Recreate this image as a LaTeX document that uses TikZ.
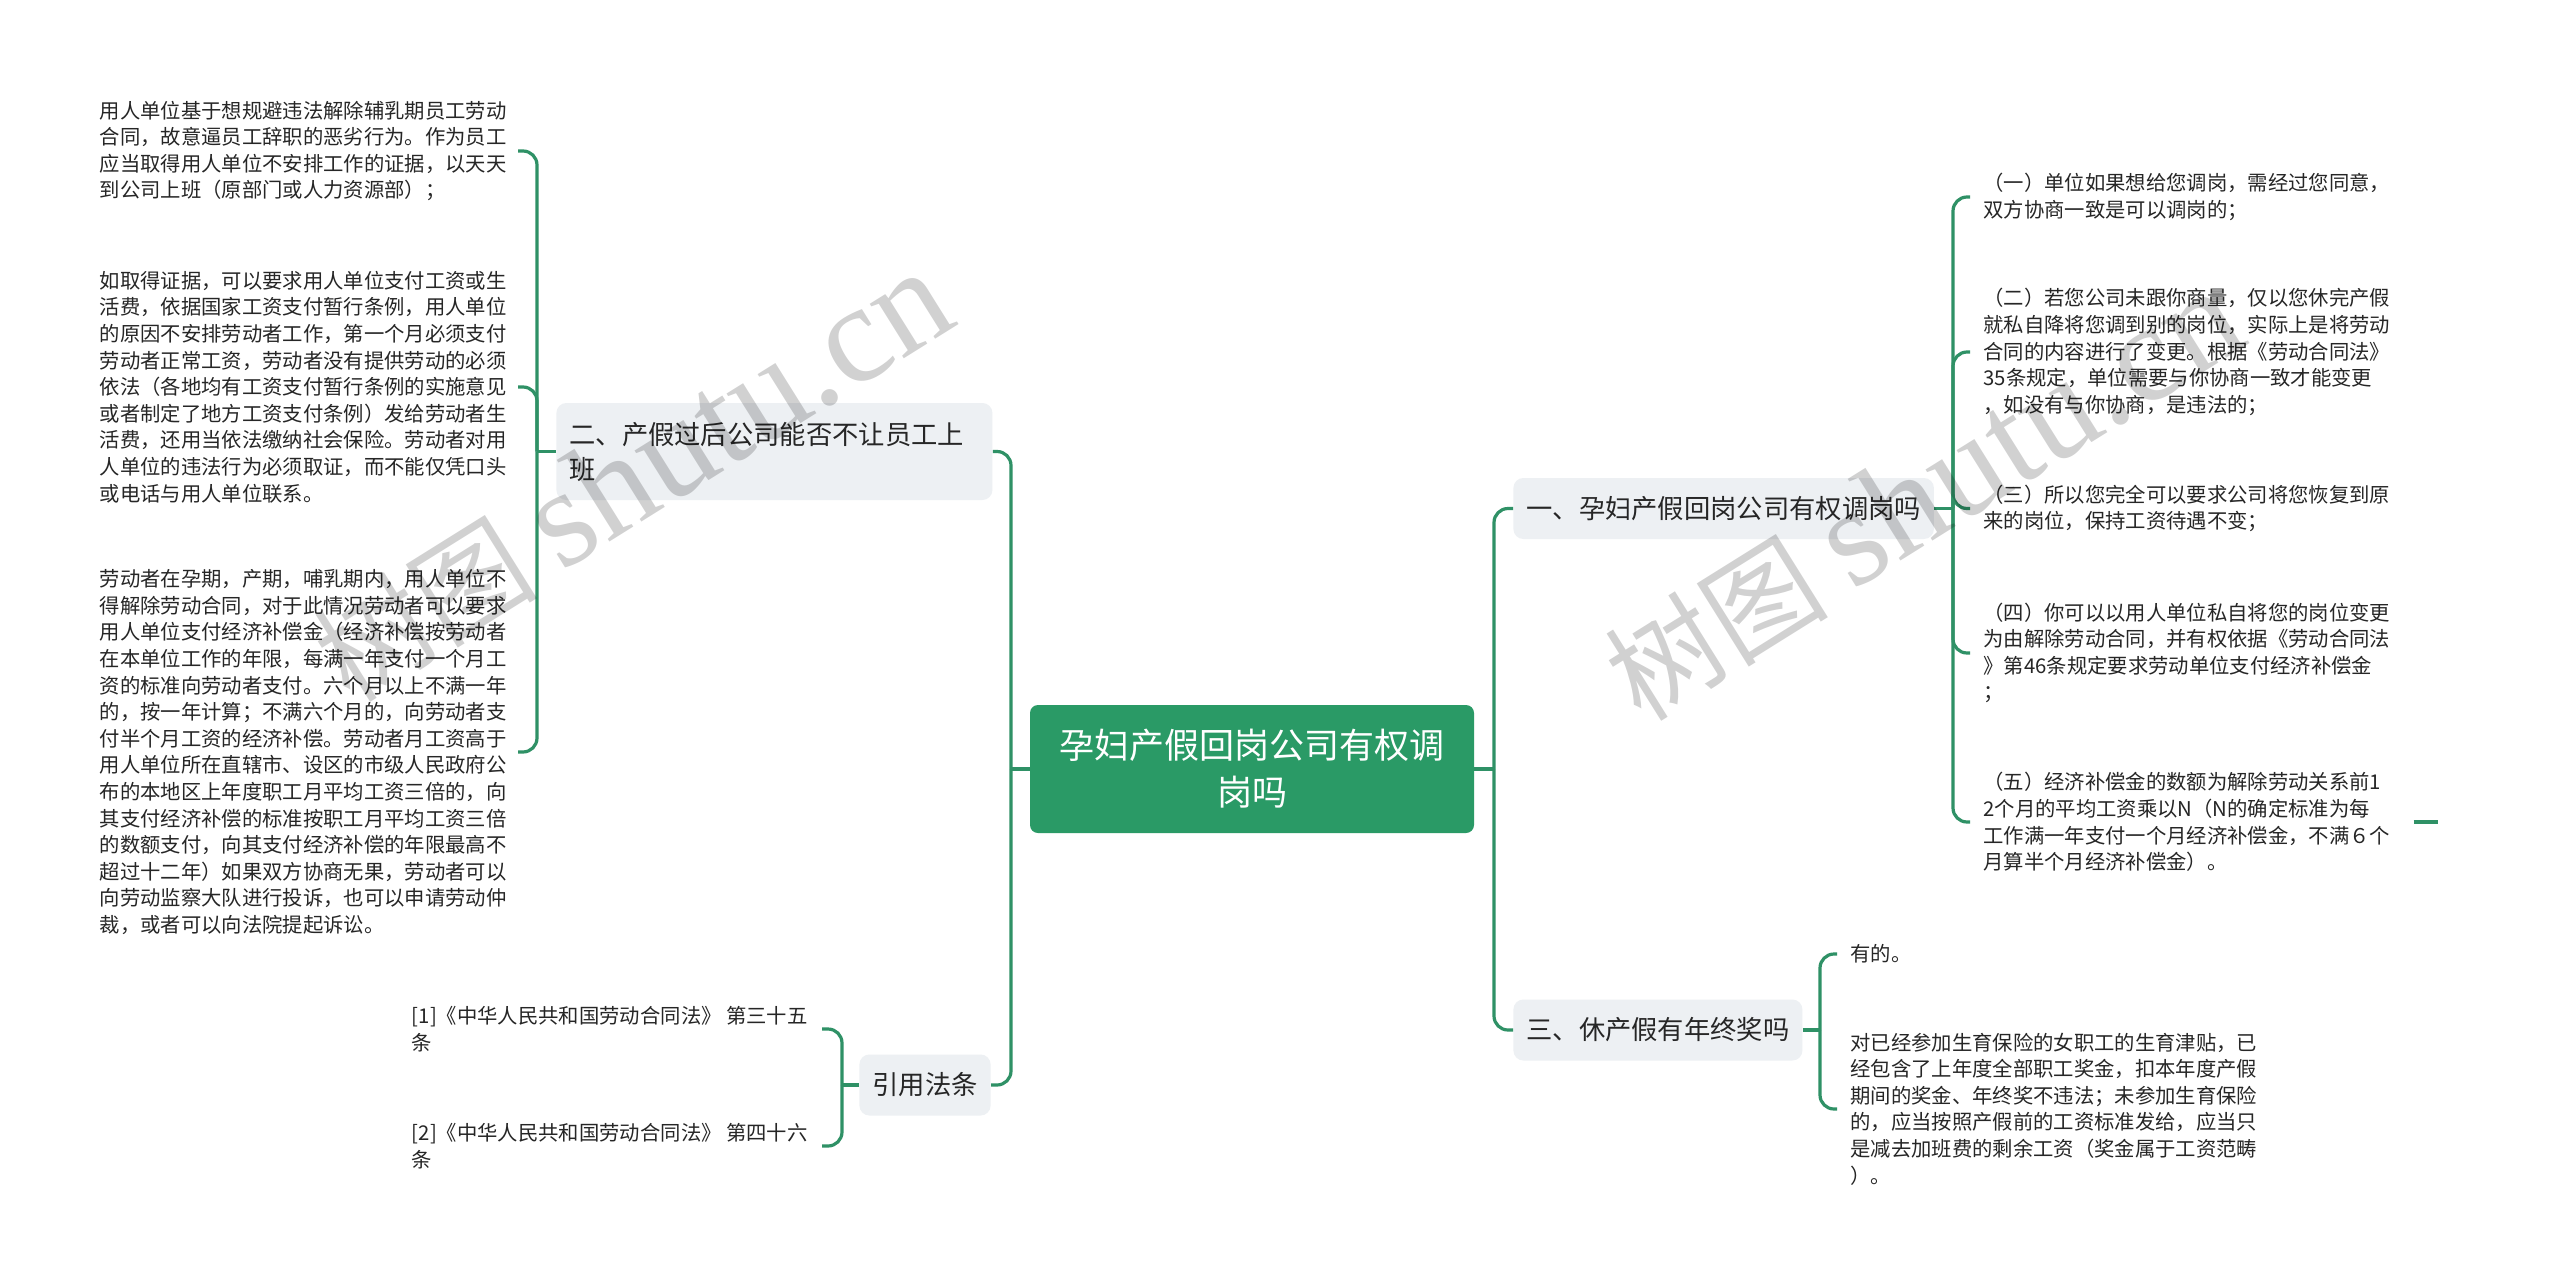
\documentclass[tikz,border=0pt]{standalone}
\usepackage{fontspec}
\setmainfont{Noto Sans CJK SC}
\newfontfamily\wmserif{Liberation Serif}
\definecolor{lineg}{HTML}{2F9166}
\definecolor{cfill}{HTML}{2A9A66}
\definecolor{bfill}{HTML}{EDF0F3}
\definecolor{txt}{HTML}{262626}
\begin{document}
\begin{tikzpicture}[x=0.5pt,y=-0.5pt,
  conn/.style={draw=lineg, line width=1.6pt, rounded corners=7pt},
  central/.style={fill=cfill, rounded corners=4pt, text=white,
    font=\fontsize{17.5pt}{23.5pt}\selectfont, align=center,
    minimum width=222pt, minimum height=64pt, inner sep=0pt},
  branch/.style={fill=bfill, rounded corners=5pt, text=txt,
    font=\fontsize{13.15pt}{17.5pt}\selectfont, align=left,
    inner xsep=6.5pt, inner ysep=0pt, minimum height=30.5pt},
  leaf/.style={text=txt, font=\fontsize{10.17pt}{13.3pt}\selectfont,
    align=left, inner xsep=6.5pt, inner ysep=0pt},
  wm/.style={text=black, opacity=0.18, rotate=32, inner sep=0pt,
    font=\fontsize{56pt}{60pt}\selectfont}
]
\useasboundingbox[fill=white] (0,0) rectangle (2560,1285);

% central
\node[central] (c) at (1252,769) {孕妇产假回岗公司有权调\\岗吗};

% branches
\node[branch, anchor=west] (b1) at (1513,508.5) {一、孕妇产假回岗公司有权调岗吗};
\node[branch, anchor=west] (b3) at (1513,1030) {三、休产假有年终奖吗};
\node[branch, anchor=west, text width=205pt, minimum height=48.5pt] (b2) at (556,451.5) {二、产假过后公司能否不让员工上\\班};
\node[branch, anchor=east] (b4) at (991,1085) {引用法条};

% right leaves of b1
\node[leaf, anchor=west] (r1) at (1970,197) {（一）单位如果想给您调岗，需经过您同意，\\双方协商一致是可以调岗的；};
\node[leaf, anchor=west] (r2) at (1970,352) {（二）若您公司未跟你商量，仅以您休完产假\\就私自降将您调到别的岗位，实际上是将劳动\\合同的内容进行了变更。根据《劳动合同法》\\35条规定，单位需要与你协商一致才能变更\\，如没有与你协商，是违法的；};
\node[leaf, anchor=west] (r3) at (1970,508.5) {（三）所以您完全可以要求公司将您恢复到原\\来的岗位，保持工资待遇不变；};
\node[leaf, anchor=west] (r4) at (1970,653) {（四）你可以以用人单位私自将您的岗位变更\\为由解除劳动合同，并有权依据《劳动合同法\\》第46条规定要求劳动单位支付经济补偿金\\；};
\node[leaf, anchor=west] (r5) at (1970,822) {（五）经济补偿金的数额为解除劳动关系前1\\2个月的平均工资乘以N（N的确定标准为每\\工作满一年支付一个月经济补偿金，不满６个\\月算半个月经济补偿金）。};
\coordinate (r5stub) at (2438,822);

% right leaves of b3
\node[leaf, anchor=west] (s1) at (1837,954) {有的。};
\node[leaf, anchor=west] (s2) at (1837,1109) {对已经参加生育保险的女职工的生育津贴，已\\经包含了上年度全部职工奖金，扣本年度产假\\期间的奖金、年终奖不违法；未参加生育保险\\的，应当按照产假前的工资标准发给，应当只\\是减去加班费的剩余工资（奖金属于工资范畴\\）。};

% left leaves of b2
\node[leaf, anchor=east, inner xsep=5.5pt] (l1) at (518,151) {用人单位基于想规避违法解除辅乳期员工劳动\\合同，故意逼员工辞职的恶劣行为。作为员工\\应当取得用人单位不安排工作的证据，以天天\\到公司上班（原部门或人力资源部）；};
\node[leaf, anchor=east, inner xsep=5.5pt] (l2) at (518,387) {如取得证据，可以要求用人单位支付工资或生\\活费，依据国家工资支付暂行条例，用人单位\\的原因不安排劳动者工作，第一个月必须支付\\劳动者正常工资，劳动者没有提供劳动的必须\\依法（各地均有工资支付暂行条例的实施意见\\或者制定了地方工资支付条例）发给劳动者生\\活费，还用当依法缴纳社会保险。劳动者对用\\人单位的违法行为必须取证，而不能仅凭口头\\或电话与用人单位联系。};
\node[leaf, anchor=east, inner xsep=5.5pt] (l3) at (518,752) {劳动者在孕期，产期，哺乳期内，用人单位不\\得解除劳动合同，对于此情况劳动者可以要求\\用人单位支付经济补偿金（经济补偿按劳动者\\在本单位工作的年限，每满一年支付一个月工\\资的标准向劳动者支付。六个月以上不满一年\\的，按一年计算；不满六个月的，向劳动者支\\付半个月工资的经济补偿。劳动者月工资高于\\用人单位所在直辖市、设区的市级人民政府公\\布的本地区上年度职工月平均工资三倍的，向\\其支付经济补偿的标准按职工月平均工资三倍\\的数额支付，向其支付经济补偿的年限最高不\\超过十二年）如果双方协商无果，劳动者可以\\向劳动监察大队进行投诉，也可以申请劳动仲\\裁，或者可以向法院提起诉讼。};

% citation leaves of b4
\node[leaf, anchor=east, inner xsep=7pt] (k1) at (822,1029) {[1]《中华人民共和国劳动合同法》 第三十五\\条};
\node[leaf, anchor=east, inner xsep=7pt] (k2) at (822,1146) {[2]《中华人民共和国劳动合同法》 第四十六\\条};

% junctions
\coordinate (jL) at (1011,769);
\coordinate (jR) at (1494,769);
\coordinate (j1) at (1953,508.5);
\coordinate (j3) at (1820,1030);
\coordinate (j2) at (537,451.5);
\coordinate (j4) at (842,1085);

% connectors
\draw[conn] (c.west) -- (jL);
\draw[conn] (jL) |- (b2.east);
\draw[conn] (jL) |- (b4.east);
\draw[conn] (c.east) -- (jR);
\draw[conn] (jR) |- (b1.west);
\draw[conn] (jR) |- (b3.west);

\draw[conn] (b1.east) -- (j1);
\foreach \n in {r1,r2,r3,r4,r5} \draw[conn] (j1) |- (\n.west);
\draw[conn] ([xshift=5pt]r5.east) -- (r5stub);

\draw[conn] (b3.east) -- (j3);
\foreach \n in {s1,s2} \draw[conn] (j3) |- (\n.west);

\draw[conn] (b2.west) -- (j2);
\foreach \n in {l1,l2,l3} \draw[conn] (j2) |- (\n.east);

\draw[conn] (b4.west) -- (j4);
\foreach \n in {k1,k2} \draw[conn] (j4) |- (\n.east);

% watermarks
\node[wm, anchor=base west] (wmL) at (350,705) {树图 {\wmserif\fontsize{70pt}{72pt}\selectfont shutu.cn}};
\node[wm, anchor=base west] (wmR) at (1641,724) {树图 {\wmserif\fontsize{70pt}{72pt}\selectfont shutu.cn}};
\end{tikzpicture}
\end{document}
